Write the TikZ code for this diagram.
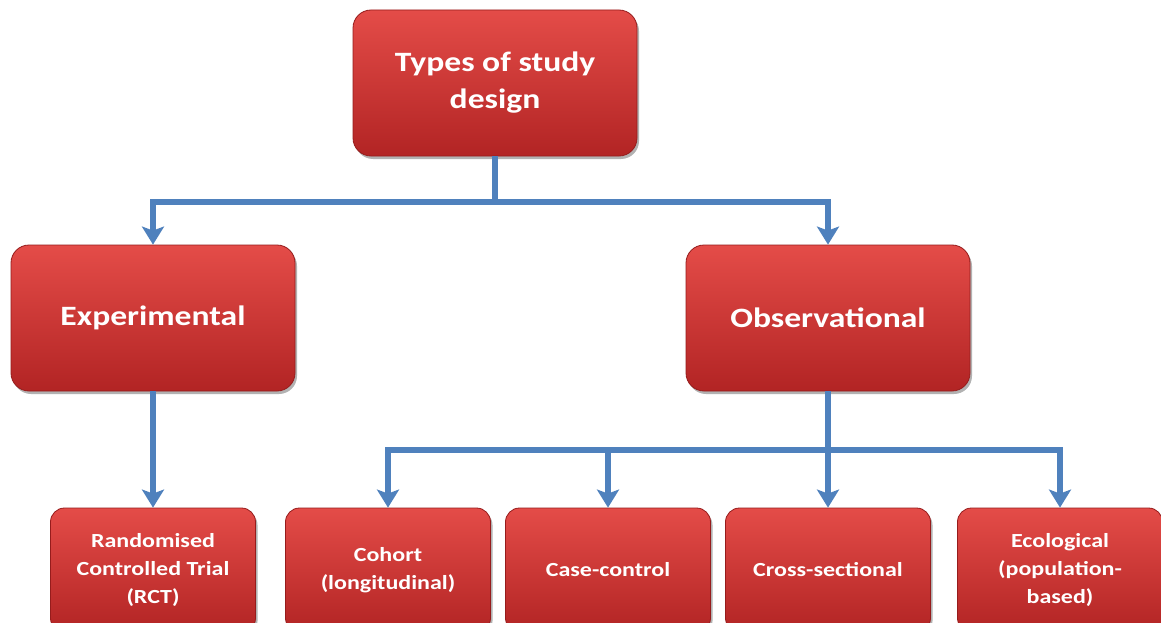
\documentclass[tikz,border=0pt]{standalone}
\usepackage{fontspec}
\setmainfont{Carlito}[FakeStretch=1.2]
\usetikzlibrary{arrows.meta,shadows}
\definecolor{boxtop}{RGB}{228,76,72}
\definecolor{boxbot}{RGB}{178,36,36}
\definecolor{boxrim}{RGB}{150,28,28}
\definecolor{linkblue}{RGB}{79,129,189}
\begin{document}
\begin{tikzpicture}[x=1pt,y=-1pt,
  box/.style={rectangle, rounded corners=18pt, top color=boxtop, bottom color=boxbot,
    draw=boxrim, line width=0.8pt, text=white, align=center, inner sep=0pt,
    drop shadow={shadow xshift=2pt, shadow yshift=-3pt, opacity=0.3, fill=black}},
  bigbox/.style={box, minimum width=284pt, minimum height=146pt,
    font=\fontsize{28}{37}\selectfont\bfseries},
  smallbox/.style={box, rounded corners=14pt, minimum width=205pt, minimum height=124pt,
    font=\fontsize{20}{28}\selectfont\bfseries},
  link/.style={draw=linkblue, line width=5.5pt},
  arr/.style={link, -{Stealth[length=18pt,width=22pt,inset=4pt]}}]
\fill[white] (0,0) rectangle (1161,623);
\useasboundingbox (0,0) rectangle (1161,623);

\node[bigbox] (top) at (495,83) {Types of study\\design};
\node[bigbox] (exp) at (153,318) {Experimental};
\node[bigbox] (obs) at (828,318) {Observational};

\node[smallbox] (rct) at (153,570) {Randomised\\Controlled Trial\\(RCT)};
\node[smallbox] (coh) at (388,570) {Cohort\\(longitudinal)};
\node[smallbox] (cc)  at (608,570) {Case-control};
\node[smallbox] (cs)  at (828,570) {Cross-sectional};
\node[smallbox] (eco) at (1060,570) {Ecological\\(population-\\based)};

\coordinate (j1) at (495,202);
\coordinate (j2) at (828,450);

\draw[link] (top) -- (j1);
\draw[arr] (j1) -| (exp.north);
\draw[arr] (j1) -| (obs.north);
\draw[arr] (exp) -- (rct);
\draw[arr] (obs) -- (cs);
\draw[arr] (j2) -| (coh.north);
\draw[arr] (j2) -| (cc.north);
\draw[arr] (j2) -| (eco.north);
\end{tikzpicture}
\end{document}
